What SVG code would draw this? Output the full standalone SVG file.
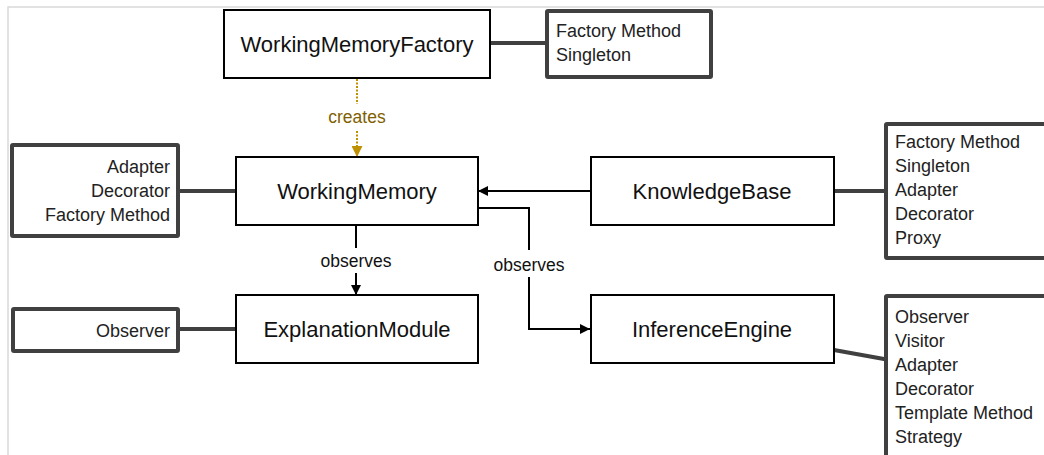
<svg xmlns="http://www.w3.org/2000/svg" width="1044" height="455" viewBox="0 0 1044 455">
  <style>
    .node rect { fill: #ffffff; stroke: #000000; stroke-width: 2; }
    .node text { font-family: "Liberation Sans", Arial, sans-serif; font-size: 22px; fill: #111111; text-anchor: middle; }
    .note rect { fill: #ffffff; stroke: #404040; stroke-width: 4; }
    .note text { font-family: "Liberation Sans", Arial, sans-serif; font-size: 18px; fill: #222222; }
    .note text.r { text-anchor: end; }
    .link { fill: none; stroke: #000000; stroke-width: 2; }
    .tie { fill: none; stroke: #404040; stroke-width: 4; stroke-linecap: round; }
    .dep { fill: none; stroke: #bf9000; stroke-width: 2; stroke-dasharray: 2 1.5; }
    .lbl { font-family: "Liberation Sans", Arial, sans-serif; font-size: 17.5px; fill: #111111; text-anchor: middle; }
    .lbl.gold { fill: #7f6000; }
  </style>
  <defs>
    <marker id="arrow" viewBox="0 0 10 10" refX="10" refY="5" markerWidth="10" markerHeight="10" markerUnits="userSpaceOnUse" orient="auto">
      <path d="M0,0 L10,5 L0,10 z" fill="#000000"/>
    </marker>
    <marker id="arrow-gold" viewBox="0 0 10 10" refX="10" refY="5" markerWidth="11" markerHeight="11" markerUnits="userSpaceOnUse" orient="auto">
      <path d="M0,0 L10,5 L0,10 z" fill="#bf9000"/>
    </marker>
  </defs>

  <rect x="0" y="0" width="1044" height="455" fill="#ffffff"/>
  <!-- page frame -->
  <path d="M8,455 V7 H1044" fill="none" stroke="#d9d9d9" stroke-width="1.5"/>

  <g id="connectors">
    <!-- pattern ties -->
    <path class="tie" d="M490,43 H545"/>
    <path class="tie" d="M180,191 H236"/>
    <path class="tie" d="M834,191 H884"/>
    <path class="tie" d="M180,329 H236"/>
    <path class="tie" d="M834,350 L884,359"/>
    <!-- creates -->
    <path class="dep" d="M357,79 V104"/>
    <text class="lbl gold" x="357" y="123">creates</text>
    <path class="dep" d="M357,131 V157" marker-end="url(#arrow-gold)"/>
    <!-- KnowledgeBase to WorkingMemory -->
    <path class="link" d="M591,191 H478" marker-end="url(#arrow)"/>
    <!-- WorkingMemory observes -> ExplanationModule -->
    <path class="link" d="M356,225 V248"/>
    <text class="lbl" x="356" y="267">observes</text>
    <path class="link" d="M356,273 V295" marker-end="url(#arrow)"/>
    <!-- WorkingMemory observes -> InferenceEngine -->
    <path class="link" d="M478,208 H529 V250"/>
    <text class="lbl" x="529" y="271">observes</text>
    <path class="link" d="M529,277 V329 H590" marker-end="url(#arrow)"/>
  </g>

  <g id="WorkingMemoryFactory" class="node">
    <rect x="224" y="10" width="266" height="68"/>
    <text x="357" y="52">WorkingMemoryFactory</text>
  </g>
  <g id="WorkingMemory" class="node">
    <rect x="236" y="157" width="242" height="68"/>
    <text x="357" y="199">WorkingMemory</text>
  </g>
  <g id="KnowledgeBase" class="node">
    <rect x="591" y="157" width="243" height="68"/>
    <text x="712" y="199">KnowledgeBase</text>
  </g>
  <g id="ExplanationModule" class="node">
    <rect x="236" y="295" width="242" height="68"/>
    <text x="357" y="337">ExplanationModule</text>
  </g>
  <g id="InferenceEngine" class="node">
    <rect x="591" y="295" width="243" height="68"/>
    <text x="712" y="337">InferenceEngine</text>
  </g>

  <g id="WorkingMemoryFactory-patterns" class="note">
    <rect x="547" y="11" width="164" height="66" rx="1"/>
    <text x="556" y="37">Factory Method</text>
    <text x="556" y="61">Singleton</text>
  </g>
  <g id="WorkingMemory-patterns" class="note">
    <rect x="12" y="145" width="166" height="91" rx="1"/>
    <text class="r" x="170" y="173">Adapter</text>
    <text class="r" x="170" y="197">Decorator</text>
    <text class="r" x="170" y="221">Factory Method</text>
  </g>
  <g id="KnowledgeBase-patterns" class="note">
    <rect x="886" y="124" width="170" height="134" rx="1"/>
    <text x="895" y="148">Factory Method</text>
    <text x="895" y="172">Singleton</text>
    <text x="895" y="196">Adapter</text>
    <text x="895" y="220">Decorator</text>
    <text x="895" y="244">Proxy</text>
  </g>
  <g id="ExplanationModule-patterns" class="note">
    <rect x="13" y="309" width="165" height="42" rx="1"/>
    <text class="r" x="170" y="337">Observer</text>
  </g>
  <g id="InferenceEngine-patterns" class="note">
    <rect x="886" y="296" width="170" height="180" rx="1"/>
    <text x="895" y="323">Observer</text>
    <text x="895" y="347">Visitor</text>
    <text x="895" y="371">Adapter</text>
    <text x="895" y="395">Decorator</text>
    <text x="895" y="419">Template Method</text>
    <text x="895" y="443">Strategy</text>
  </g>
</svg>
